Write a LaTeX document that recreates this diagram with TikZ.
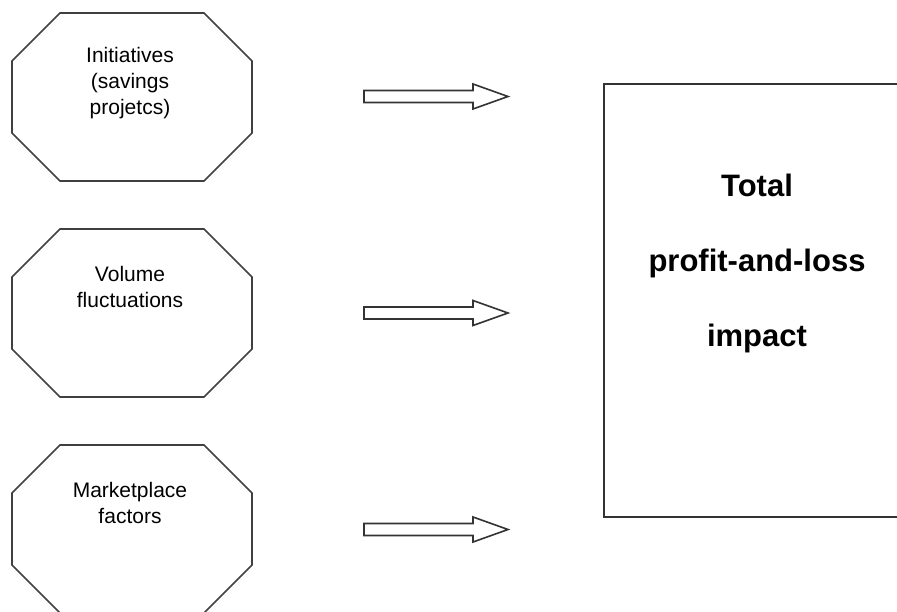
\documentclass[tikz,border=0pt]{standalone}
\usepackage{fontspec}
\setmainfont{Liberation Sans}
\begin{document}
\begin{tikzpicture}[x=1pt,y=-1pt,
  octoline/.style={draw=black!75, line width=1.6pt, line join=miter},
  arrowline/.style={draw=black!80, line width=1.6pt, fill=white, line join=miter},
  boxline/.style={draw=black!80, line width=1.6pt},
  smalltext/.style={font=\fontsize{21}{26}\selectfont, align=center, inner sep=0pt},
  bigtext/.style={font=\fontsize{31}{75}\selectfont\bfseries, align=center, inner sep=0pt}]
\clip (0,0) rectangle (897,611);
\fill[white] (0,0) rectangle (897,611);

% octagon outline with top edge at y=#1
\newcommand\octagonat[1]{%
  \draw[octoline] (60,#1) -- (204,#1) -- (252,#1+48) -- (252,#1+120)
    -- (204,#1+168) -- (60,#1+168) -- (12,#1+120) -- (12,#1+48) -- cycle;}
% hollow block arrow centred vertically on y=#1
\newcommand\blockarrowat[1]{%
  \draw[arrowline] (364,#1-6) -- (473,#1-6) -- (473,#1-12.5) -- (508,#1)
    -- (473,#1+12.5) -- (473,#1+6) -- (364,#1+6) -- cycle;}

\octagonat{13}
\octagonat{229}
\octagonat{445}

\node[smalltext] (init) at (130,83) {Initiatives\\(savings\\projetcs)};
\node[smalltext] (vol) at (130,287) {Volume\\fluctuations};
\node[smalltext] (mkt) at (130,503) {Marketplace\\factors};

\blockarrowat{96.5}
\blockarrowat{313}
\blockarrowat{529.5}

% result box, open towards the right border
\draw[boxline] (905,84) -- (604,84) -- (604,517) -- (905,517);
\node[bigtext] (total) at (757,263) {Total\\profit-and-loss\\impact};
\end{tikzpicture}
\end{document}
